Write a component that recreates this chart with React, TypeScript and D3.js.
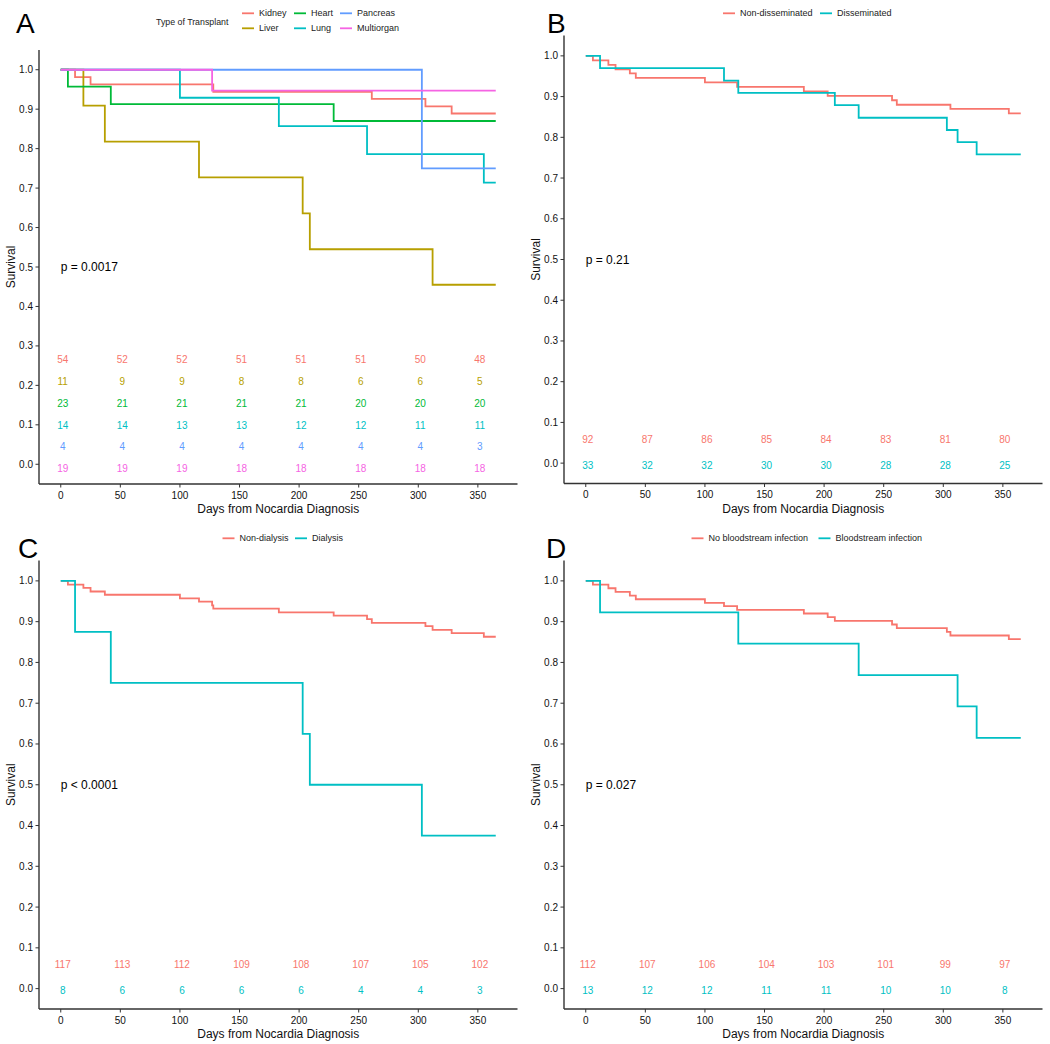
import React from "react";
import * as d3 from "d3";

// ---------- DATA ----------
const riskDays = [0, 50, 100, 150, 200, 250, 300, 350];
const followUpEnd = 365;

// Panel A – type of transplant
const transplantNames = ["Kidney", "Liver", "Heart", "Lung", "Pancreas", "Multiorgan"];
const transplantColors = ["#F8766D", "#B79F00", "#00BA38", "#00BFC4", "#619CFF", "#F564E3"];
const kidneyTimes = [0, 12, 25, 128, 261, 306, 328];
const kidneySurv = [1, 0.981, 0.963, 0.944, 0.926, 0.907, 0.889];
const liverTimes = [0, 19, 37, 116, 203, 209, 312];
const liverSurv = [1, 0.909, 0.818, 0.727, 0.636, 0.545, 0.455];
const heartTimes = [0, 6, 42, 229];
const heartSurv = [1, 0.957, 0.913, 0.87];
const lungTimes = [0, 100, 183, 257, 355];
const lungSurv = [1, 0.929, 0.857, 0.786, 0.714];
const pancreasTimes = [0, 303];
const pancreasSurv = [1, 0.75];
const multiorganTimes = [0, 127];
const multiorganSurv = [1, 0.947];
const kidneyAtRisk = [54, 52, 52, 51, 51, 51, 50, 48];
const liverAtRisk = [11, 9, 9, 8, 8, 6, 6, 5];
const heartAtRisk = [23, 21, 21, 21, 21, 20, 20, 20];
const lungAtRisk = [14, 14, 13, 13, 12, 12, 11, 11];
const pancreasAtRisk = [4, 4, 4, 4, 4, 4, 4, 3];
const multiorganAtRisk = [19, 19, 19, 18, 18, 18, 18, 18];

// Panel B – dissemination
const dissemNames = ["Non-disseminated", "Disseminated"];
const nonDissemTimes = [0, 6, 19, 25, 37, 42, 100, 127, 183, 203, 257, 261, 306, 355];
const nonDissemSurv = [1, 0.989, 0.978, 0.967, 0.957, 0.946, 0.935, 0.924, 0.913, 0.902, 0.891, 0.88, 0.87, 0.859];
const dissemTimes = [0, 12, 116, 128, 209, 229, 303, 312, 328];
const dissemSurv = [1, 0.97, 0.939, 0.909, 0.879, 0.848, 0.818, 0.788, 0.758];
const nonDissemAtRisk = [92, 87, 86, 85, 84, 83, 81, 80];
const dissemAtRisk = [33, 32, 32, 30, 30, 28, 28, 25];

// Panel C – dialysis
const dialysisNames = ["Non-dialysis", "Dialysis"];
const nonDialysisTimes = [0, 6, 19, 25, 37, 100, 116, 127, 128, 183, 229, 257, 261, 306, 312, 328, 355];
const nonDialysisSurv = [1, 0.991, 0.983, 0.974, 0.966, 0.957, 0.949, 0.94, 0.932, 0.923, 0.915, 0.906, 0.897, 0.889, 0.88, 0.872, 0.863];
const dialysisTimes = [0, 12, 42, 203, 209, 303];
const dialysisSurv = [1, 0.875, 0.75, 0.625, 0.5, 0.375];
const nonDialysisAtRisk = [117, 113, 112, 109, 108, 107, 105, 102];
const dialysisAtRisk = [8, 6, 6, 6, 6, 4, 4, 3];

// Panel D – bloodstream infection
const bsiNames = ["No bloodstream infection", "Bloodstream infection"];
const noBsiTimes = [0, 6, 19, 25, 37, 42, 100, 116, 127, 183, 203, 209, 257, 261, 303, 306, 355];
const noBsiSurv = [1, 0.991, 0.982, 0.973, 0.964, 0.955, 0.946, 0.938, 0.929, 0.92, 0.911, 0.902, 0.893, 0.884, 0.875, 0.866, 0.857];
const bsiTimes = [0, 12, 128, 229, 312, 328];
const bsiSurv = [1, 0.923, 0.846, 0.769, 0.692, 0.615];
const noBsiAtRisk = [112, 107, 106, 104, 103, 101, 99, 97];
const bsiAtRisk = [13, 12, 12, 11, 11, 10, 10, 8];

const twoColors = ["#F8766D", "#00BFC4"];
const yTicks = [0, 0.1, 0.2, 0.3, 0.4, 0.5, 0.6, 0.7, 0.8, 0.9, 1.0];

// ---------- BUILD ----------
type Group = { name: string; color: string; times: number[]; surv: number[]; atRisk: number[] };
const mk = (name: string, color: string, times: number[], surv: number[], atRisk: number[]): Group => ({ name, color, times, surv, atRisk });

const groupsA: Group[] = [
  mk(transplantNames[0], transplantColors[0], kidneyTimes, kidneySurv, kidneyAtRisk),
  mk(transplantNames[1], transplantColors[1], liverTimes, liverSurv, liverAtRisk),
  mk(transplantNames[2], transplantColors[2], heartTimes, heartSurv, heartAtRisk),
  mk(transplantNames[3], transplantColors[3], lungTimes, lungSurv, lungAtRisk),
  mk(transplantNames[4], transplantColors[4], pancreasTimes, pancreasSurv, pancreasAtRisk),
  mk(transplantNames[5], transplantColors[5], multiorganTimes, multiorganSurv, multiorganAtRisk),
];
const groupsB: Group[] = [
  mk(dissemNames[0], twoColors[0], nonDissemTimes, nonDissemSurv, nonDissemAtRisk),
  mk(dissemNames[1], twoColors[1], dissemTimes, dissemSurv, dissemAtRisk),
];
const groupsC: Group[] = [
  mk(dialysisNames[0], twoColors[0], nonDialysisTimes, nonDialysisSurv, nonDialysisAtRisk),
  mk(dialysisNames[1], twoColors[1], dialysisTimes, dialysisSurv, dialysisAtRisk),
];
const groupsD: Group[] = [
  mk(bsiNames[0], twoColors[0], noBsiTimes, noBsiSurv, noBsiAtRisk),
  mk(bsiNames[1], twoColors[1], bsiTimes, bsiSurv, bsiAtRisk),
];

const FONT = "'Liberation Sans', Arial, sans-serif";

type PanelProps = {
  letter: string;
  letterX: number;
  letterY: number;
  ox: number;
  x0: number;
  x1: number;
  yTop: number;
  yBottom: number;
  groups: Group[];
  pval: string;
  tableTop: number;
  tableStep: number;
  legendItems: { x: number; y: number }[];
  legendTitle?: { text: string; x: number; y: number };
};

function Panel(p: PanelProps) {
  const xs = d3.scaleLinear().domain([-18.25, 383.25]).range([p.ox + p.x0, p.ox + p.x1]);
  const ys = d3.scaleLinear().domain([-0.05, 1.05]).range([p.yBottom, p.yTop]);
  const line = d3
    .line<[number, number]>()
    .x((d) => xs(d[0]))
    .y((d) => ys(d[1]))
    .curve(d3.curveStepAfter);
  const axisColor = "#333";
  const L = p.ox + p.x0;
  const R = p.ox + p.x1;
  return (
    <g fontFamily={FONT}>
      <text x={p.letterX} y={p.letterY} fontSize={28} fill="#000">{p.letter}</text>
      {p.legendTitle && (
        <text x={p.legendTitle.x} y={p.legendTitle.y} fontSize={8.8} fill="#222" dominantBaseline="central">
          {p.legendTitle.text}
        </text>
      )}
      {p.groups.map((g, i) => {
        const it = p.legendItems[i];
        return (
          <g key={"lg" + i}>
            <line x1={it.x} x2={it.x + 12} y1={it.y} y2={it.y} stroke={g.color} strokeWidth={1.8} />
            <text x={it.x + 17} y={it.y} fontSize={9} fill="#222" dominantBaseline="central">{g.name}</text>
          </g>
        );
      })}
      <line x1={L} x2={L} y1={p.yTop} y2={p.yBottom} stroke={axisColor} strokeWidth={1.4} />
      <line x1={L} x2={R} y1={p.yBottom} y2={p.yBottom} stroke={axisColor} strokeWidth={1.4} />
      {yTicks.map((t) => (
        <g key={"yt" + t}>
          <line x1={L - 3.5} x2={L} y1={ys(t)} y2={ys(t)} stroke={axisColor} strokeWidth={1} />
          <text x={L - 6} y={ys(t)} fontSize={10} textAnchor="end" dominantBaseline="central" fill="#111">
            {t.toFixed(1)}
          </text>
        </g>
      ))}
      {riskDays.map((t) => (
        <g key={"xt" + t}>
          <line x1={xs(t)} x2={xs(t)} y1={p.yBottom} y2={p.yBottom + 3.5} stroke={axisColor} strokeWidth={1} />
          <text x={xs(t)} y={p.yBottom + 11} fontSize={10} textAnchor="middle" dominantBaseline="central" fill="#111">
            {t}
          </text>
        </g>
      ))}
      <text x={(L + R) / 2} y={p.yBottom + 25} fontSize={12} textAnchor="middle" dominantBaseline="central" fill="#111">
        Days from Nocardia Diagnosis
      </text>
      <text
        transform={`translate(${p.ox + 10.5},${(p.yTop + p.yBottom) / 2}) rotate(-90)`}
        fontSize={12}
        textAnchor="middle"
        dominantBaseline="central"
        fill="#111"
      >
        Survival
      </text>
      {p.groups.map((g, i) => {
        const pts: [number, number][] = g.times.map((t, k) => [t, g.surv[k]] as [number, number]);
        pts.push([followUpEnd, g.surv[g.surv.length - 1]]);
        return <path key={"c" + i} d={line(pts) || ""} fill="none" stroke={g.color} strokeWidth={1.8} />;
      })}
      <text x={xs(0)} y={ys(0.5)} fontSize={12} dominantBaseline="central" fill="#000">{p.pval}</text>
      {p.groups.map((g, i) =>
        g.atRisk.map((n, k) => (
          <text
            key={"r" + i + "-" + k}
            x={xs(riskDays[k]) + 2}
            y={ys(p.tableTop - i * p.tableStep)}
            fontSize={10}
            textAnchor="middle"
            dominantBaseline="central"
            fill={g.color}
          >
            {n}
          </text>
        ))
      )}
    </g>
  );
}

export default function App() {
  return (
    <div style={{ position: "absolute", left: 0, top: 0 }}>
      <svg width={1050} height={1044} style={{ display: "block", background: "#fff" }}>
        <rect x={0} y={0} width={1050} height={1044} fill="#fff" />
        <Panel
          letter="A" letterX={16} letterY={33}
          ox={0} x0={39} x1={517.5} yTop={50} yBottom={484}
          groups={groupsA} pval="p = 0.0017"
          tableTop={0.265} tableStep={0.0553}
          legendTitle={{ text: "Type of Transplant", x: 156, y: 21.7 }}
          legendItems={[
            { x: 242, y: 13.3 }, { x: 242, y: 28.3 },
            { x: 294, y: 13.3 }, { x: 294, y: 28.3 },
            { x: 340, y: 13.3 }, { x: 340, y: 28.3 },
          ]}
        />
        <Panel
          letter="B" letterX={547} letterY={32.5}
          ox={525} x0={39} x1={517.5} yTop={35.5} yBottom={483.5}
          groups={groupsB} pval="p = 0.21"
          tableTop={0.058} tableStep={0.064}
          legendItems={[{ x: 723, y: 13.3 }, { x: 820, y: 13.3 }]}
        />
        <Panel
          letter="C" letterX={18} letterY={557.5}
          ox={0} x0={39} x1={517.5} yTop={560.5} yBottom={1009}
          groups={groupsC} pval="p < 0.0001"
          tableTop={0.06} tableStep={0.064}
          legendItems={[{ x: 222.5, y: 538.3 }, { x: 295, y: 538.3 }]}
        />
        <Panel
          letter="D" letterX={546} letterY={557.5}
          ox={525} x0={39} x1={517.5} yTop={560.5} yBottom={1009}
          groups={groupsD} pval="p = 0.027"
          tableTop={0.06} tableStep={0.064}
          legendItems={[{ x: 691.5, y: 538.3 }, { x: 818.5, y: 538.3 }]}
        />
      </svg>
    </div>
  );
}
